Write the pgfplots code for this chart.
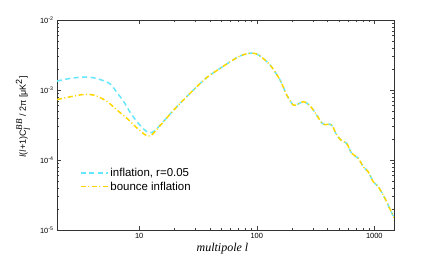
\documentclass[border=0pt]{standalone}
\usepackage{fontspec}
\setmainfont{Liberation Sans}
\newfontfamily\serif{Liberation Serif}
\usepackage{pgfplots}
\pgfplotsset{compat=1.18}
\definecolor{infl}{RGB}{100,230,255}
\definecolor{bounce}{RGB}{255,215,0}
\begin{document}
\begin{tikzpicture}
\path[use as bounding box] (-57bp,-29bp) rectangle (379bp,230bp);
\begin{loglogaxis}[
 scale only axis, width=337bp, height=210bp,
 xmin=2, xmax=1470, ymin=1e-5, ymax=1e-2,
 xtick={10,100,1000}, xticklabels={10,100,1000},
 ytick={1e-5,1e-4,1e-3,1e-2},
 yticklabels={10\textsuperscript{-5},10\textsuperscript{-4},10\textsuperscript{-3},10\textsuperscript{-2}},
 tick align=inside, major tick length=4bp, minor tick length=2bp,
 tick style={black!75, line width=0.4pt},
 axis line style={black!80, line width=0.6pt},
 ticklabel style={font=\fontsize{7.5}{9}\selectfont},
 xlabel={\serif\itshape multipole l},
 xlabel style={at={(axis description cs:0.491,-0.09)}, anchor=center, font=\fontsize{12}{14}\selectfont},
 ylabel={{\serif\itshape l}({\serif\itshape l}+1)C$_{\mbox{\serif\itshape l}}^{\mbox{\serif\itshape BB}}$ / 2π [μK$^{\mbox{2}}$]},
 ylabel style={at={(axis description cs:-0.101,0.538)}, anchor=center, font=\fontsize{9}{11}\selectfont},
 legend style={draw=none, fill=none, inner sep=0pt, outer sep=0pt,
   at={(axis description cs:0.068,0.305)}, anchor=north west,
   font=\fontsize{11.5}{14}\selectfont, row sep=0pt},
 legend cell align=left,
 legend image code/.code={\draw[#1] (0bp,0bp) -- (27bp,0bp);},
]
\addplot[infl, line width=1.5bp, dash pattern=on 5bp off 3.5bp, smooth] coordinates {
(2,1.34e-3)(2.5,1.45e-3)(3.16,1.52e-3)(3.84,1.52e-3)(4.6,1.42e-3)(5.67,1.22e-3)
(6.5,9.1e-4)(7.36,6.9e-4)(8.3,4.93e-4)(9.25,3.8e-4)(10.5,2.95e-4)(11.6,2.55e-4)
(12.5,2.45e-4)(13.5,2.6e-4)(15.1,3.16e-4)(20.9,5.77e-4)(28.9,1.0e-3)
(37.6,1.51e-3)(48.8,2.04e-3)(63.2,2.70e-3)(72.1,3.06e-3)(84.9,3.34e-3)(96.8,3.32e-3)
(106.7,3.06e-3)(129.8,2.28e-3)(157.8,1.39e-3)(179.9,8.48e-4)(204.7,6.1e-4)(224.4,6.31e-4)
(249,6.81e-4)(273,6.31e-4)(303,5.18e-4)(357,3.4e-4)(385,3.2e-4)(420,3.25e-4)(445,2.96e-4)
(478,2.28e-4)(527,1.89e-4)(582,1.73e-4)(641,1.25e-4)(730,1.06e-4)(805,8.0e-5)(887,6.8e-5)
(979,4.9e-5)(1080,4.16e-5)(1230,2.84e-5)(1470,1.5e-5)
};
\addlegendentry{inflation, r=0.05}
\addplot[bounce, line width=1.5bp, dash pattern=on 5bp off 2.5bp on 1bp off 2.5bp, smooth] coordinates {
(2,7.3e-4)(2.5,7.9e-4)(3.0,8.4e-4)(3.5,8.65e-4)(4.2,8.4e-4)(5.3,6.9e-4)(6.5,5.15e-4)
(7.86,3.94e-4)(9.5,2.9e-4)(11.2,2.3e-4)(12.3,2.2e-4)(13.2,2.4e-4)(16.1,3.52e-4)
(20.9,5.77e-4)(28.9,1.0e-3)
(37.6,1.51e-3)(48.8,2.04e-3)(63.2,2.70e-3)(72.1,3.06e-3)(84.9,3.34e-3)(96.8,3.32e-3)
(106.7,3.06e-3)(129.8,2.28e-3)(157.8,1.39e-3)(179.9,8.48e-4)(204.7,6.1e-4)(224.4,6.31e-4)
(249,6.81e-4)(273,6.31e-4)(303,5.18e-4)(357,3.4e-4)(385,3.2e-4)(420,3.25e-4)(445,2.96e-4)
(478,2.28e-4)(527,1.89e-4)(582,1.73e-4)(641,1.25e-4)(730,1.06e-4)(805,8.0e-5)(887,6.8e-5)
(979,4.9e-5)(1080,4.16e-5)(1230,2.84e-5)(1470,1.5e-5)
};
\addlegendentry{bounce inflation}
\end{loglogaxis}
\end{tikzpicture}
\end{document}
